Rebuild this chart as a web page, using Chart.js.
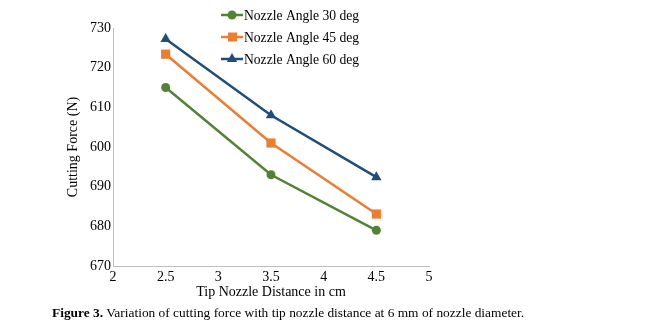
<!DOCTYPE html>
<html>
<head>
<meta charset="utf-8">
<script src="https://cdn.jsdelivr.net/npm/chart.js@4.4.1/dist/chart.umd.min.js"></script>
<style>
  html, body { margin: 0; padding: 0; background: #fff; }
  #wrap { position: relative; width: 658px; height: 336px; }
  #caption {
    position: absolute; left: 52px; top: 305px;
    font: 13.4px "Liberation Serif", "Times New Roman", serif; line-height: 16px;
    color: #000; white-space: nowrap;
  }
</style>
</head>
<body>
<div id="wrap">
  <canvas id="chart" width="658" height="336"></canvas>
  <div id="caption"><b>Figure 3.</b> Variation of cutting force with tip nozzle distance at 6 mm of nozzle diameter.</div>
</div>
<script>
// data (y values are positions on the 670..730 grid)
const distances = [2.5, 3.5, 4.5];
const angle30 = [715, 693, 679];
const angle45 = [723.4, 701, 683.1];
const angle60 = [727.2, 708, 692.4];
// tick labels as printed in the original figure
const yTickLabels = ['670', '680', '690', '600', '610', '720', '730'];
const seriesNames = ['Nozzle Angle 30 deg', 'Nozzle Angle 45 deg', 'Nozzle Angle 60 deg'];

const serif = '"Liberation Serif", "Times New Roman", serif';
const axisColor = '#bfbfbf';

function toPoints(vals) {
  return distances.map((d, i) => ({ x: d, y: vals[i] }));
}

function makeSet(label, vals, color, style, radius) {
  return {
    label: label,
    data: toPoints(vals),
    borderColor: color,
    backgroundColor: color,
    borderWidth: 2.5,
    pointStyle: style,
    pointRadius: radius,
    pointHoverRadius: radius,
    pointBorderWidth: 0,
    tension: 0
  };
}

// legend with line + marker, like the original
const lineLegend = {
  id: 'lineLegend',
  afterDraw(chart) {
    const ctx = chart.ctx;
    const rows = [15, 37, 59];
    ctx.save();
    chart.data.datasets.forEach((ds, i) => {
      const y = rows[i];
      ctx.strokeStyle = ds.borderColor;
      ctx.lineWidth = 2.5;
      ctx.beginPath();
      ctx.moveTo(221, y);
      ctx.lineTo(243, y);
      ctx.stroke();
      ctx.fillStyle = ds.backgroundColor;
      ctx.beginPath();
      if (ds.pointStyle === 'circle') {
        ctx.arc(232, y, 4.5, 0, Math.PI * 2);
      } else if (ds.pointStyle === 'rect') {
        ctx.rect(228, y - 4.5, 9, 9);
      } else {
        ctx.moveTo(232, y - 6);
        ctx.lineTo(237.2, y + 3);
        ctx.lineTo(226.8, y + 3);
        ctx.closePath();
      }
      ctx.fill();
      ctx.fillStyle = '#000';
      ctx.font = '13.6px ' + serif;
      ctx.textBaseline = 'middle';
      ctx.textAlign = 'left';
      ctx.fillText(ds.label, 244, y + 1);
    });
    ctx.restore();
  }
};

new Chart(document.getElementById('chart'), {
  type: 'line',
  data: {
    datasets: [
      makeSet(seriesNames[0], angle30, '#548235', 'circle', 4.5),
      makeSet(seriesNames[1], angle45, '#ed7d31', 'rect', 6.5),
      makeSet(seriesNames[2], angle60, '#1f4e79', 'triangle', 6)
    ]
  },
  options: {
    responsive: false,
    animation: false,
    layout: { padding: { left: 0, top: 28, right: 229, bottom: 0 } },
    plugins: {
      legend: { display: false },
      title: { display: false },
      tooltip: { enabled: false }
    },
    scales: {
      x: {
        type: 'linear',
        min: 2,
        max: 5,
        grid: { display: false, drawTicks: false, tickLength: 0 },
        border: { display: true, color: axisColor, width: 1 },
        ticks: {
          stepSize: 0.5,
          color: '#000',
          padding: 3,
          font: { family: serif, size: 14 },
          maxRotation: 0,
          callback: v => String(v)
        },
        title: {
          display: true,
          text: 'Tip Nozzle Distance in cm',
          color: '#000',
          font: { family: serif, size: 14 },
          padding: { top: 0, bottom: 35 }
        },
        afterFit(scale) { scale.height = 70; }
      },
      y: {
        min: 670,
        max: 730,
        grid: { display: false, drawTicks: false, tickLength: 0 },
        border: { display: true, color: axisColor, width: 1 },
        ticks: {
          stepSize: 10,
          color: '#000',
          padding: 2,
          font: { family: serif, size: 14 },
          callback: v => yTickLabels[Math.round((v - 670) / 10)]
        },
        title: {
          display: true,
          text: 'Cutting Force (N)',
          color: '#000',
          font: { family: serif, size: 14 },
          padding: { top: 65, bottom: 0 }
        },
        afterFit(scale) { scale.width = 113; }
      }
    }
  },
  plugins: [lineLegend]
});
</script>
</body>
</html>
